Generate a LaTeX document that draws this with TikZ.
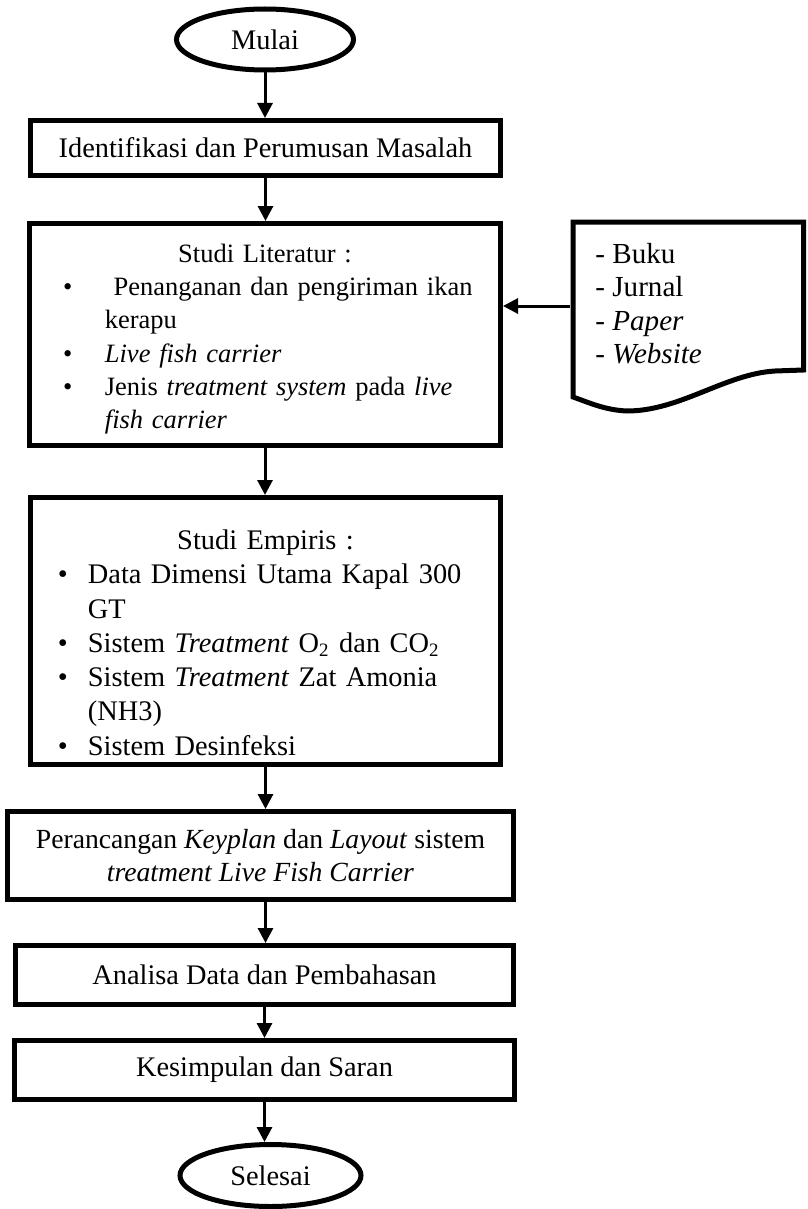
\documentclass[tikz,border=0pt]{standalone}
\usepackage{fontspec}
\setmainfont{Liberation Serif}
\usepackage{tikz}
\usetikzlibrary{arrows.meta,shapes.geometric}

\newcommand{\px}{0.423pt}
\newlength{\bki}
\newlength{\bte}
\newcommand{\judul}[1]{\noindent\hbox to \linewidth{\hss#1\hss}}
\newcommand{\butir}[1]{\par\noindent\hbox{\hspace*{\bki}\makebox[\dimexpr\bte-\bki\relax][l]{\textbullet}#1}}
\newcommand{\lanjut}[1]{\par\noindent\hbox{\hspace*{\bte}#1}}

\begin{document}
\begin{tikzpicture}[x=\px, y=-\px,
    garis/.style={line width=5*\px},
    kotak/.style={garis, draw, rectangle, inner sep=0pt, font=\fontsize{12}{14.5}\selectfont},
    bulat/.style={garis, draw, ellipse, inner sep=0pt, font=\fontsize{12}{14.5}\selectfont},
    panah/.style={line width=3*\px, -{Triangle[width=15*\px, length=15*\px]}}]
    \useasboundingbox[fill=white] (0,0) rectangle (807,1209);
    %\draw[step=50,gray,very thin] (0,0) grid (807,1209);

    \node[bulat, minimum width=177*\px, minimum height=61*\px] (mulai) at (265,39.5) {Mulai};

    \node[kotak, minimum width=470*\px, minimum height=55*\px] (identifikasi) at (265.5,148)
        {Identifikasi dan Perumusan Masalah};

    \node[kotak, minimum width=471*\px, minimum height=222*\px, text width=471*\px,
        font=\fontsize{11.2}{14.1}\selectfont] (literatur) at (265,334.5) {%
        \setlength{\bki}{14.2pt}\setlength{\bte}{31.9pt}%
        \judul{\rule{0pt}{11.8pt}Studi Literatur :}
        \butir{\ Penanganan dan pengiriman ikan}
        \lanjut{kerapu}
        \butir{\textit{Live fish carrier}}
        \butir{Jenis \textit{treatment system} pada \textit{live}}
        \lanjut{\textit{fish carrier}}\par};

    % sumber pustaka
    \draw[garis] (573,222) -- (803.5,222) -- (803.5,370) -- (775,371)
        .. controls (725,374) and (680,411) .. (627,411)
        .. controls (605,410) and (590,403) .. (573,397) -- cycle;
    \node[anchor=north west, inner sep=0pt, align=left, font=\fontsize{12.3}{14.1}\selectfont] (sumber) at (595,243)
        {- Buku\\- Jurnal\\- \textit{Paper}\\- \textit{Website}};
    \coordinate (dokkiri) at (570,306);

    \node[kotak, minimum width=470*\px, minimum height=267*\px, text width=470*\px] (empiris) at (265.5,631) {%
        \setlength{\bki}{11.6pt}\setlength{\bte}{24.3pt}%
        \judul{\rule{0pt}{18.2pt}Studi Empiris :}
        \butir{Data Dimensi Utama Kapal 300}
        \lanjut{GT}
        \butir{Sistem \textit{Treatment} O\textsubscript{2} dan CO\textsubscript{2}}
        \butir{Sistem \textit{Treatment} Zat Amonia}
        \lanjut{(NH3)}
        \butir{Sistem Desinfeksi}\par};

    \node[kotak, minimum width=506*\px, minimum height=88*\px, align=center,
        font=\fontsize{11.7}{14}\selectfont] (rancangan) at (260.5,855.5)
        {Perancangan \textit{Keyplan} dan \textit{Layout} sistem\\\textit{treatment Live Fish Carrier}};

    \node[kotak, minimum width=498*\px, minimum height=59*\px] (analisa) at (264.5,975)
        {Analisa Data dan Pembahasan};

    \node[kotak, minimum width=500*\px, minimum height=59*\px] (kesimpulan) at (264.5,1070)
        {Kesimpulan dan Saran};

    \node[bulat, minimum width=181*\px, minimum height=62*\px] (selesai) at (270.5,1175.5) {Selesai};

    \draw[panah] (mulai.south) -- (mulai.south |- identifikasi.north);
    \draw[panah] (identifikasi.south) -- (identifikasi.south |- literatur.north);
    \draw[panah] (literatur.south) -- (literatur.south |- empiris.north);
    \draw[panah] (empiris.south) -- (empiris.south |- rancangan.north);
    \draw[panah] (rancangan.south -| empiris.south) -- (empiris.south |- analisa.north);
    \draw[panah] (analisa.south) -- (analisa.south |- kesimpulan.north);
    \draw[panah] (kesimpulan.south) -- (kesimpulan.south |- selesai.north);
    \draw[panah] (dokkiri) -- (dokkiri -| literatur.east);

\end{tikzpicture}
\end{document}
